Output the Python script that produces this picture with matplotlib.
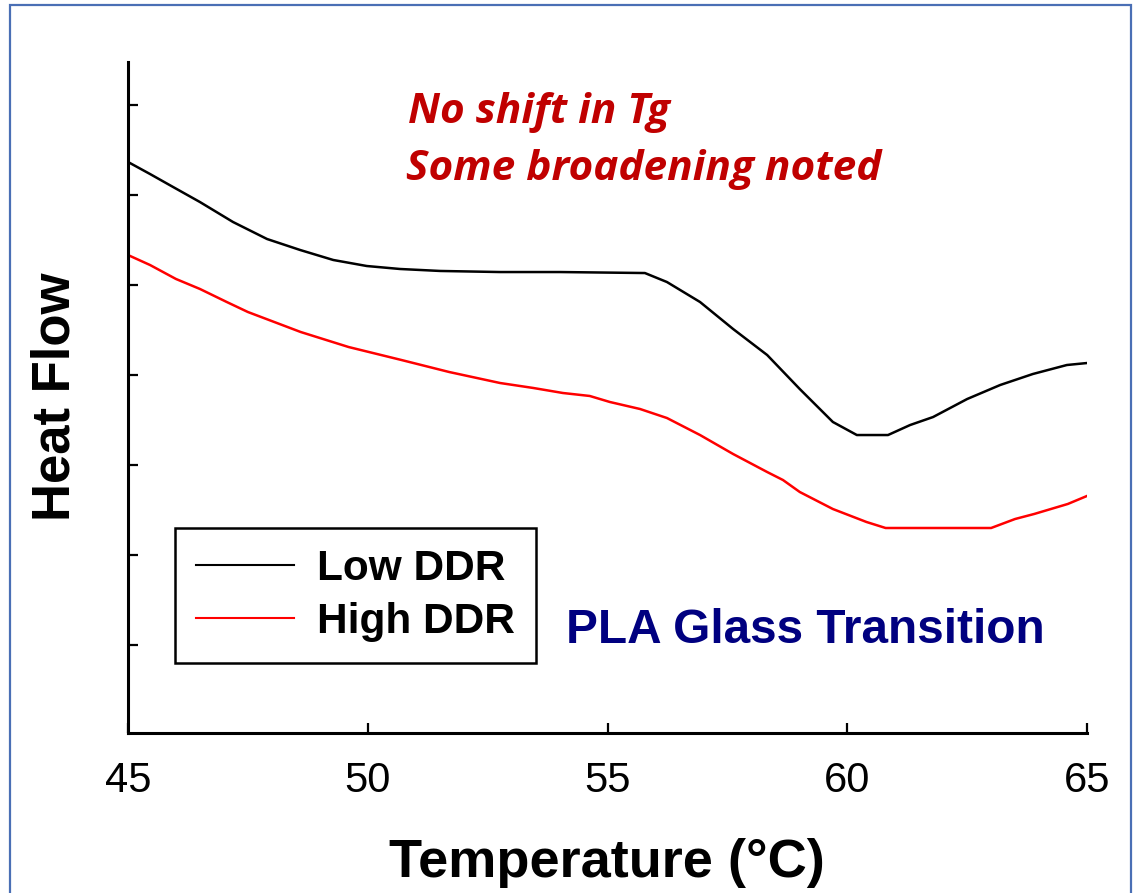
import matplotlib
matplotlib.use("Agg")
import matplotlib.pyplot as plt
from matplotlib.patches import Rectangle

# ---- data (heat flow in arbitrary units; ticks are unlabeled) ----
temp_low = [45.0, 45.46, 45.94, 46.5, 47.19, 47.9, 48.59, 49.28, 49.98, 50.67, 51.51,
            52.76, 54.01, 55.78, 56.24, 56.93, 57.62, 58.33, 59.01, 59.7, 60.2, 60.85,
            61.31, 61.79, 62.5, 63.19, 63.87, 64.58, 65.0]
flow_low = [6.367, 6.233, 6.089, 5.922, 5.700, 5.511, 5.389, 5.278, 5.211, 5.178, 5.156,
            5.144, 5.144, 5.133, 5.033, 4.811, 4.511, 4.222, 3.844, 3.478, 3.333, 3.333,
            3.444, 3.533, 3.733, 3.889, 4.011, 4.111, 4.133]

temp_high = [45.0, 45.46, 46.0, 46.5, 47.06, 47.5, 48.6, 49.6, 50.7, 51.7, 52.76, 53.45,
             54.07, 54.63, 55.05, 55.68, 56.24, 56.93, 57.62, 58.33, 58.66, 59.01, 59.7,
             60.4, 60.8, 63.0, 63.5, 63.9, 64.6, 65.0]
flow_high = [5.333, 5.222, 5.067, 4.956, 4.811, 4.700, 4.478, 4.311, 4.167, 4.033, 3.911,
             3.856, 3.800, 3.767, 3.700, 3.622, 3.522, 3.333, 3.122, 2.922, 2.833, 2.700,
             2.511, 2.367, 2.300, 2.300, 2.400, 2.456, 2.567, 2.656]

x_ticks = [45, 50, 55, 60, 65]
y_ticks = [1, 2, 3, 4, 5, 6, 7]
series_labels = ["Low DDR", "High DDR"]

W, H = 1135, 893
fig = plt.figure(figsize=(W / 100, H / 100), dpi=100)

def fx(px):
    return px / W

def fy(py):
    return 1 - py / H

# blue frame around the slide
fig.patches.append(Rectangle((fx(10), fy(900)), fx(1131) - fx(10), fy(5) - fy(900),
                             transform=fig.transFigure, fill=False,
                             edgecolor="#4a6fb5", linewidth=1.6))

ax = fig.add_axes([fx(128), fy(733), fx(1087) - fx(128), fy(62) - fy(733)])
ax.plot(temp_low, flow_low, color="black", lw=1.8, label=series_labels[0])
ax.plot(temp_high, flow_high, color="#ff0000", lw=1.8, label=series_labels[1])

ax.set_xlim(45, 65)
ax.set_ylim(1 - 88 / 90, 1 + 583 / 90)
ax.set_xticks(x_ticks)
ax.set_yticks(y_ticks)
ax.set_yticklabels([])
ax.tick_params(axis="both", direction="in", length=7.5, width=1.6)
ax.tick_params(axis="x", labelsize=30, pad=20)
for lab in ax.get_xticklabels():
    lab.set_fontfamily("Liberation Sans")
for s in ["top", "right"]:
    ax.spines[s].set_visible(False)
for s in ["left", "bottom"]:
    ax.spines[s].set_linewidth(2.2)

fig.text(fx(607), fy(877), "Temperature (°C)", ha="center", va="baseline",
         fontsize=39, fontweight="bold", family="Liberation Sans")
fig.text(fx(55), fy(397), "Heat Flow", ha="center", va="center", rotation=90,
         fontsize=38, fontweight="bold", family="Liberation Sans")

leg = ax.legend(loc="upper left", bbox_to_anchor=(fx(175), fy(528)),
                bbox_transform=fig.transFigure, frameon=True, fancybox=False,
                edgecolor="black", framealpha=1,
                prop={"family": "Liberation Sans", "weight": "bold", "size": 30.5},
                handlelength=2.3, handletextpad=0.55, labelspacing=0.3,
                borderpad=0.5, borderaxespad=0)
leg.get_frame().set_linewidth(1.8)
for line in leg.get_lines():
    line.set_linewidth(1.5)

fig.text(fx(408), fy(123), "No shift in Tg", ha="left", va="baseline", color="#c00000",
         fontsize=30.5, fontweight="bold", fontstyle="italic", family="Open Sans")
fig.text(fx(406), fy(180), "Some broadening noted", ha="left", va="baseline", color="#c00000",
         fontsize=30.5, fontweight="bold", fontstyle="italic", family="Open Sans")
fig.text(fx(566), fy(643), "PLA Glass Transition", ha="left", va="baseline", color="#000080",
         fontsize=34.4, fontweight="bold", family="Liberation Sans")

fig.savefig("out.png", dpi=100)
